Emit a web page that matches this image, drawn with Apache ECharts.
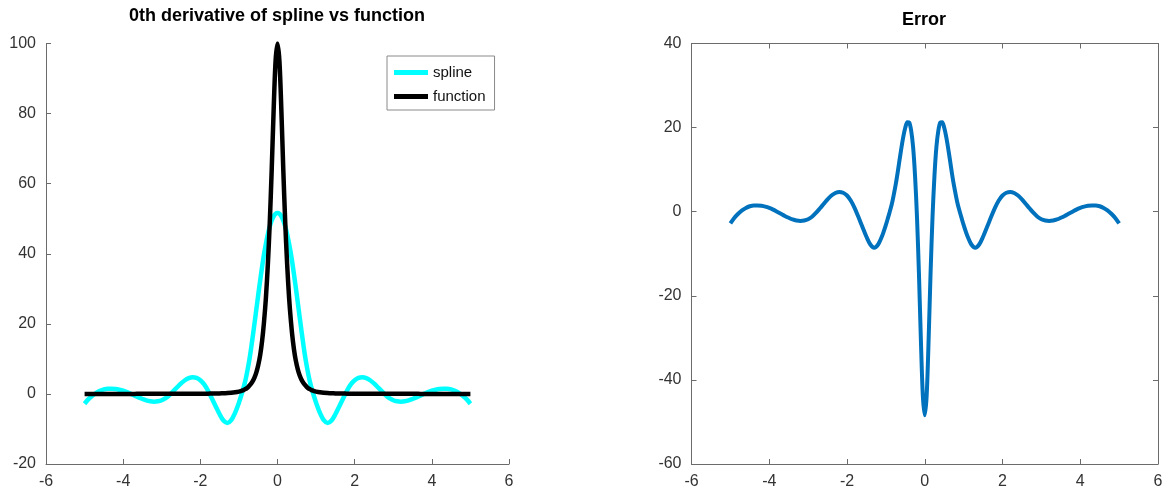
<!DOCTYPE html>
<html>
<head>
<meta charset="utf-8">
<script src="https://cdn.jsdelivr.net/npm/echarts@6/dist/echarts.min.js"></script>
<style>
  html, body { margin: 0; padding: 0; background: #fff; }
  #chart { width: 1170px; height: 495px; }
</style>
</head>
<body>
<div id="chart"></div>
<script>
// ---- data ----
const leftTitle = '0th derivative of spline vs function';
const rightTitle = 'Error';
const seriesNames = ['spline', 'function'];

const xValues = [
  -5, -4.9, -4.8, -4.7, -4.6, -4.5, -4.4, -4.3, -4.2, -4.1,
  -4, -3.9, -3.8, -3.7, -3.6, -3.5, -3.4, -3.3, -3.2, -3.1,
  -3, -2.9, -2.8, -2.7, -2.6, -2.5, -2.4, -2.3, -2.2, -2.1,
  -2, -1.9, -1.8, -1.7, -1.6, -1.5, -1.4, -1.3, -1.2, -1.1,
  -1, -0.95, -0.9, -0.85, -0.8, -0.75, -0.7, -0.65, -0.6, -0.55,
  -0.5, -0.45, -0.4, -0.35, -0.3, -0.25, -0.2, -0.15, -0.1, -0.05,
  0,
  0.05, 0.1, 0.15, 0.2, 0.25, 0.3, 0.35, 0.4, 0.45, 0.5,
  0.55, 0.6, 0.65, 0.7, 0.75, 0.8, 0.85, 0.9, 0.95, 1,
  1.1, 1.2, 1.3, 1.4, 1.5, 1.6, 1.7, 1.8, 1.9, 2,
  2.1, 2.2, 2.3, 2.4, 2.5, 2.6, 2.7, 2.8, 2.9, 3,
  3.1, 3.2, 3.3, 3.4, 3.5, 3.6, 3.7, 3.8, 3.9, 4,
  4.1, 4.2, 4.3, 4.4, 4.5, 4.6, 4.7, 4.8, 4.9, 5
];

const functionValues = [
  0.01, 0.01, 0.01, 0.01, 0.01, 0.01, 0.01, 0.01, 0.01, 0.01,
  0.01, 0.01, 0.01, 0.01, 0.02, 0.02, 0.02, 0.02, 0.02, 0.02,
  0.02, 0.02, 0.03, 0.03, 0.03, 0.03, 0.04, 0.04, 0.05, 0.05,
  0.06, 0.07, 0.08, 0.09, 0.11, 0.14, 0.18, 0.24, 0.32, 0.45,
  0.65, 0.8, 1.0, 1.3, 1.6, 2.1, 2.7, 3.5, 4.6, 6.1,
  8.2, 11, 15, 20.5, 27.5, 37, 49, 64, 81, 95,
  100,
  95, 81, 64, 49, 37, 27.5, 20.5, 15, 11, 8.2,
  6.1, 4.6, 3.5, 2.7, 2.1, 1.6, 1.3, 1.0, 0.8, 0.65,
  0.45, 0.32, 0.24, 0.18, 0.14, 0.11, 0.09, 0.08, 0.07, 0.06,
  0.05, 0.05, 0.04, 0.04, 0.03, 0.03, 0.03, 0.03, 0.02, 0.02,
  0.02, 0.02, 0.02, 0.02, 0.02, 0.02, 0.01, 0.01, 0.01, 0.01,
  0.01, 0.01, 0.01, 0.01, 0.01, 0.01, 0.01, 0.01, 0.01, 0.01
];

const splineValues = [
  -2.8, -1.5, -0.5, 0.3, 0.9, 1.3, 1.5, 1.5, 1.4, 1.2,
  0.9, 0.5, 0.0, -0.5, -1.0, -1.45, -1.85, -2.1, -2.2, -2.1,
  -1.8, -1.2, -0.3, 0.8, 1.9, 3.0, 3.9, 4.5, 4.75, 4.55,
  3.9, 2.7, 0.9, -1.3, -3.6, -5.8, -7.6, -8.3, -7.5, -5.4,
  -2.5, -0.8, 1.0, 3.0, 5.5, 8.4, 11.8, 15.7, 19.8, 24.0,
  28.2, 32.3, 36.2, 39.8, 42.9, 45.6, 47.8, 49.5, 50.7, 51.4,
  51.6,
  51.4, 50.7, 49.5, 47.8, 45.6, 42.9, 39.8, 36.2, 32.3, 28.2,
  24.0, 19.8, 15.7, 11.8, 8.4, 5.5, 3.0, 1.0, -0.8, -2.5,
  -5.4, -7.5, -8.3, -7.6, -5.8, -3.6, -1.3, 0.9, 2.7, 3.9,
  4.55, 4.75, 4.5, 3.9, 3.0, 1.9, 0.8, -0.3, -1.2, -1.8,
  -2.1, -2.2, -2.1, -1.85, -1.45, -1.0, -0.5, 0.0, 0.5, 0.9,
  1.2, 1.4, 1.5, 1.5, 1.3, 0.9, 0.3, -0.5, -1.5, -2.8
];

const errorValues = [
  -2.8, -1.5, -0.5, 0.3, 0.9, 1.3, 1.5, 1.5, 1.4, 1.2,
  0.9, 0.5, 0.0, -0.5, -1.0, -1.45, -1.85, -2.1, -2.2, -2.1,
  -1.8, -1.2, -0.3, 0.75, 1.85, 2.95, 3.85, 4.45, 4.7, 4.5,
  3.85, 2.6, 0.8, -1.4, -3.7, -5.95, -7.8, -8.55, -7.8, -5.85,
  -3.15, -1.6, 0.0, 1.7, 3.9, 6.3, 9.1, 12.2, 15.2, 17.9,
  20.0, 21.3, 21.2, 19.3, 15.4, 8.6, -1.2, -14.5, -30.3, -43.6,
  -48.4,
  -43.6, -30.3, -14.5, -1.2, 8.6, 15.4, 19.3, 21.2, 21.3, 20.0,
  17.9, 15.2, 12.2, 9.1, 6.3, 3.9, 1.7, 0.0, -1.6, -3.15,
  -5.85, -7.8, -8.55, -7.8, -5.95, -3.7, -1.4, 0.8, 2.6, 3.85,
  4.5, 4.7, 4.45, 3.85, 2.95, 1.85, 0.75, -0.3, -1.2, -1.8,
  -2.1, -2.2, -2.1, -1.85, -1.45, -1.0, -0.5, 0.0, 0.5, 0.9,
  1.2, 1.4, 1.5, 1.5, 1.3, 0.9, 0.3, -0.5, -1.5, -2.8
];

const xTicks = { min: -6, max: 6, interval: 2 };
const leftYTicks = { min: -20, max: 100, interval: 20 };
const rightYTicks = { min: -60, max: 40, interval: 20 };

// ---- build ----
function pairs(ys) { return xValues.map((x, i) => [x, ys[i]]); }

const FONT = '"Liberation Sans", Arial, Helvetica, sans-serif';
const axisLineColor = '#6b6b6b';
const labelColor = '#333333';

function xAxisDef(gridIndex, pos, showLabels) {
  return {
    type: 'value', gridIndex, position: pos,
    min: xTicks.min, max: xTicks.max, interval: xTicks.interval,
    axisLine: { show: true, onZero: false, lineStyle: { color: axisLineColor, width: 1 } },
    axisTick: { show: true, inside: true, length: 5, lineStyle: { color: axisLineColor } },
    axisLabel: { show: showLabels, color: labelColor, fontSize: 16, fontFamily: FONT, margin: 10 },
    splitLine: { show: false }
  };
}
function yAxisDef(gridIndex, pos, t, showLabels) {
  return {
    type: 'value', gridIndex, position: pos,
    min: t.min, max: t.max, interval: t.interval,
    axisLine: { show: true, onZero: false, lineStyle: { color: axisLineColor, width: 1 } },
    axisTick: { show: true, inside: true, length: 5, lineStyle: { color: axisLineColor } },
    axisLabel: { show: showLabels, color: labelColor, fontSize: 16, fontFamily: FONT, margin: 10 },
    splitLine: { show: false }
  };
}

const chart = echarts.init(document.getElementById('chart'), null, { renderer: 'canvas' });
chart.setOption({
  animation: false,
  backgroundColor: '#ffffff',
  title: [
    { text: leftTitle, left: 277, top: 7, textAlign: 'center', padding: 0,
      textStyle: { fontFamily: FONT, fontSize: 18, fontWeight: 'bold', color: '#000' } },
    { text: rightTitle, left: 924, top: 11, textAlign: 'center', padding: 0,
      textStyle: { fontFamily: FONT, fontSize: 18, fontWeight: 'bold', color: '#000' } }
  ],
  legend: {
    data: seriesNames.map(n => ({ name: n, icon: 'rect' })),
    orient: 'vertical',
    left: 387, top: 56,
    itemWidth: 34, itemHeight: 5, itemGap: 9,
    padding: [9, 9, 6, 7],
    borderColor: '#8a8a8a', borderWidth: 1,
    backgroundColor: '#fff',
    textStyle: { fontFamily: FONT, fontSize: 15, color: '#111' }
  },
  grid: [
    { left: 46, right: 661, top: 43.5, bottom: 31, containLabel: false },
    { left: 691.5, right: 12, top: 43.5, bottom: 31, containLabel: false }
  ],
  xAxis: [
    xAxisDef(0, 'bottom', true),
    xAxisDef(1, 'bottom', true),
    xAxisDef(1, 'top', false)
  ],
  yAxis: [
    yAxisDef(0, 'left', leftYTicks, true),
    yAxisDef(1, 'left', rightYTicks, true),
    yAxisDef(1, 'right', rightYTicks, false)
  ],
  series: [
    { name: 'spline', type: 'line', xAxisIndex: 0, yAxisIndex: 0,
      data: pairs(splineValues), showSymbol: false, smooth: 0.3,
      lineStyle: { color: '#00ffff', width: 4.5, join: 'round' },
      itemStyle: { color: '#00ffff' }, z: 2 },
    { name: 'function', type: 'line', xAxisIndex: 0, yAxisIndex: 0,
      data: pairs(functionValues), showSymbol: false, smooth: 0.3,
      lineStyle: { color: '#000000', width: 4.5, join: 'round' },
      itemStyle: { color: '#000000' }, z: 3 },
    { name: 'error', type: 'line', xAxisIndex: 1, yAxisIndex: 1,
      data: pairs(errorValues), showSymbol: false, smooth: 0.3,
      lineStyle: { color: '#0072bd', width: 4, join: 'round' },
      itemStyle: { color: '#0072bd' }, z: 2 }
  ]
});
</script>
</body>
</html>
